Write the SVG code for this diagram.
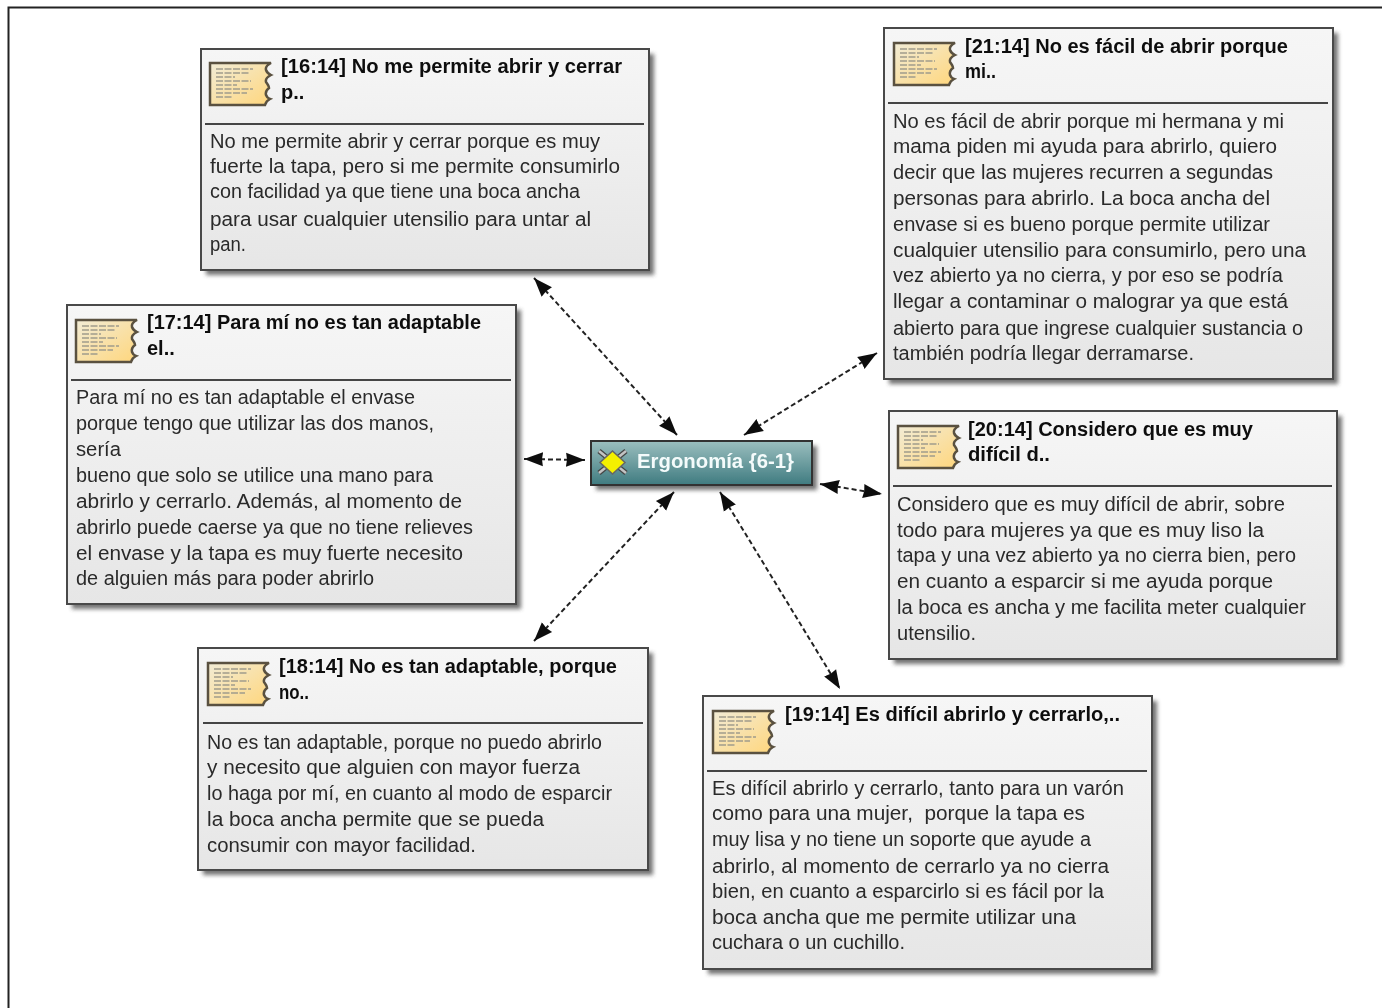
<svg xmlns="http://www.w3.org/2000/svg" width="1382" height="1008" viewBox="0 0 1382 1008">
<style>
text{font-family:"Liberation Sans",Arial,sans-serif;white-space:pre;transform:translateY(-.7px)}
.t{font-size:20px;font-weight:700;fill:#111}
.b{font-size:20px;fill:#2a2a2a}
.card{fill:url(#cg);stroke:#4a4a4a;stroke-width:2}
.sh{fill:#444;opacity:.75;filter:url(#blur)}
.div{stroke:#444;stroke-width:2}
.conn{fill:none;stroke:#222;stroke-width:2;stroke-dasharray:5 3;marker-start:url(#ah);marker-end:url(#ah)}
</style>
<defs>
<linearGradient id="cg" x1="0" y1="0" x2="0" y2="1"><stop offset="0" stop-color="#f6f6f6"/><stop offset="1" stop-color="#e6e6e6"/></linearGradient>
<linearGradient id="tg" x1="0" y1="0" x2="0" y2="1"><stop offset="0" stop-color="#9bbfbf"/><stop offset="1" stop-color="#3f7b80"/></linearGradient>
<linearGradient id="pg" x1="0" y1="0" x2="1" y2="1"><stop offset="0" stop-color="#f2ecd6"/><stop offset="1" stop-color="#ffd67c"/></linearGradient>
<filter id="blur" x="-10%" y="-10%" width="120%" height="120%"><feGaussianBlur stdDeviation="2"/></filter>
<filter id="soft" x="0" y="0" width="100%" height="100%" filterUnits="userSpaceOnUse" primitiveUnits="userSpaceOnUse"><feGaussianBlur stdDeviation="0.45"/></filter>
<marker id="ah" markerUnits="userSpaceOnUse" markerWidth="20" markerHeight="18" refX="19" refY="9" orient="auto-start-reverse"><path d="M0 2L19 9L0 16L1 9Z" fill="#111"/></marker>
<symbol id="icon" width="64" height="46" viewBox="0 0 64 46" overflow="visible">
<path d="M1 2H62Q56 5 57 9Q58 12 62 14Q56 17 57 21Q60 25 60 27Q56 30 57 34Q58 37 61 38Q57 40 56 44H1Z" fill="url(#pg)" stroke="#5a5140" stroke-width="2.500"/>
<path d="M7 8H44M7 12H40M7 16H26M7 20H42M7 24H28M7 28H44M7 32H38M7 36H24" stroke="#a09c8c" stroke-width="1.400" stroke-dasharray="7 1.500" fill="none"/>
</symbol>
</defs>
<g id="diagram" filter="url(#soft)">
<rect width="1382" height="1008" fill="#fff"/>
<path d="M8.500 1008V7.500H1382" fill="none" stroke="#222" stroke-width="2"/>
<g id="connectors">
<line class="conn" x1="534" y1="278" x2="677" y2="435"/>
<line class="conn" x1="877" y1="353" x2="744" y2="435"/>
<line class="conn" x1="524" y1="459" x2="585" y2="460"/>
<line class="conn" x1="820" y1="484" x2="882" y2="494"/>
<line class="conn" x1="534" y1="641" x2="674" y2="492"/>
<line class="conn" x1="720" y1="492" x2="840" y2="689"/>
</g>
<g id="node-center">
<rect class="sh" x="596" y="446" width="221" height="44"/>
<rect x="591" y="441" width="221" height="44" fill="url(#tg)" stroke="#333" stroke-width="2"/>
<g stroke="#444" stroke-width="5"><line x1="599" y1="451" x2="626" y2="473"/><line x1="626" y1="451" x2="599" y2="473"/></g>
<g stroke="#c4c4c4" stroke-width="2.500"><line x1="599" y1="451" x2="626" y2="473"/><line x1="626" y1="451" x2="599" y2="473"/></g>
<path d="M612.500 451L625 462.500L612.500 474L600 462.500Z" fill="#f4f000" stroke="#666" stroke-width="1.500"/>
<text x="637" y="469" font-size="21" font-weight="700" fill="#f4fbfb" textLength="157" lengthAdjust="spacingAndGlyphs">Ergonomía {6-1}</text>
</g>
<g id="node-16">
<rect class="sh" x="206" y="54" width="448" height="221"/>
<rect class="card" x="201" y="49" width="448" height="221"/>
<use href="#icon" x="209" y="61"/>
<line class="div" x1="205" y1="124" x2="644" y2="124"/>
<text class="t" x="281" y="74" textLength="341" lengthAdjust="spacingAndGlyphs">[16:14] No me permite abrir y cerrar</text>
<text class="t" x="281" y="100">p..</text>
<text class="b" x="210" y="149" textLength="390" lengthAdjust="spacingAndGlyphs">No me permite abrir y cerrar porque es muy</text>
<text class="b" x="210" y="174" textLength="410" lengthAdjust="spacingAndGlyphs">fuerte la tapa, pero si me permite consumirlo</text>
<text class="b" x="210" y="199" textLength="370" lengthAdjust="spacingAndGlyphs">con facilidad ya que tiene una boca ancha</text>
<text class="b" x="210" y="227" textLength="381" lengthAdjust="spacingAndGlyphs">para usar cualquier utensilio para untar al</text>
<text class="b" x="210" y="252" textLength="36" lengthAdjust="spacingAndGlyphs">pan.</text>
</g>
<g id="node-21">
<rect class="sh" x="889" y="33" width="449" height="351"/>
<rect class="card" x="884" y="28" width="449" height="351"/>
<use href="#icon" x="893" y="41"/>
<line class="div" x1="888" y1="103" x2="1328" y2="103"/>
<text class="t" x="965" y="54" textLength="323" lengthAdjust="spacingAndGlyphs">[21:14] No es fácil de abrir porque</text>
<text class="t" x="965" y="79" textLength="31" lengthAdjust="spacingAndGlyphs">mi..</text>
<text class="b" x="893" y="129" textLength="391" lengthAdjust="spacingAndGlyphs">No es fácil de abrir porque mi hermana y mi</text>
<text class="b" x="893" y="154" textLength="384" lengthAdjust="spacingAndGlyphs">mama piden mi ayuda para abrirlo, quiero</text>
<text class="b" x="893" y="180" textLength="380" lengthAdjust="spacingAndGlyphs">decir que las mujeres recurren a segundas</text>
<text class="b" x="893" y="206" textLength="377" lengthAdjust="spacingAndGlyphs">personas para abrirlo. La boca ancha del</text>
<text class="b" x="893" y="232" textLength="377" lengthAdjust="spacingAndGlyphs">envase si es bueno porque permite utilizar</text>
<text class="b" x="893" y="258" textLength="413" lengthAdjust="spacingAndGlyphs">cualquier utensilio para consumirlo, pero una</text>
<text class="b" x="893" y="283" textLength="390" lengthAdjust="spacingAndGlyphs">vez abierto ya no cierra, y por eso se podría</text>
<text class="b" x="893" y="309" textLength="395" lengthAdjust="spacingAndGlyphs">llegar a contaminar o malograr ya que está</text>
<text class="b" x="893" y="336" textLength="410" lengthAdjust="spacingAndGlyphs">abierto para que ingrese cualquier sustancia o</text>
<text class="b" x="893" y="361" textLength="301" lengthAdjust="spacingAndGlyphs">también podría llegar derramarse.</text>
</g>
<g id="node-17">
<rect class="sh" x="72" y="310" width="449" height="299"/>
<rect class="card" x="67" y="305" width="449" height="299"/>
<use href="#icon" x="75" y="318"/>
<line class="div" x1="71" y1="380" x2="511" y2="380"/>
<text class="t" x="147" y="330" textLength="334" lengthAdjust="spacingAndGlyphs">[17:14] Para mí no es tan adaptable</text>
<text class="t" x="147" y="356">el..</text>
<text class="b" x="76" y="405" textLength="339" lengthAdjust="spacingAndGlyphs">Para mí no es tan adaptable el envase</text>
<text class="b" x="76" y="431" textLength="358" lengthAdjust="spacingAndGlyphs">porque tengo que utilizar las dos manos,</text>
<text class="b" x="76" y="457" textLength="45" lengthAdjust="spacingAndGlyphs">sería</text>
<text class="b" x="76" y="483" textLength="357" lengthAdjust="spacingAndGlyphs">bueno que solo se utilice una mano para</text>
<text class="b" x="76" y="509" textLength="386" lengthAdjust="spacingAndGlyphs">abrirlo y cerrarlo. Además, al momento de</text>
<text class="b" x="76" y="535" textLength="397" lengthAdjust="spacingAndGlyphs">abrirlo puede caerse ya que no tiene relieves</text>
<text class="b" x="76" y="561" textLength="387" lengthAdjust="spacingAndGlyphs">el envase y la tapa es muy fuerte necesito</text>
<text class="b" x="76" y="586" textLength="298" lengthAdjust="spacingAndGlyphs">de alguien más para poder abrirlo</text>
</g>
<g id="node-18">
<rect class="sh" x="203" y="653" width="450" height="222"/>
<rect class="card" x="198" y="648" width="450" height="222"/>
<use href="#icon" x="207" y="661"/>
<line class="div" x1="203" y1="723" x2="643" y2="723"/>
<text class="t" x="279" y="674" textLength="338" lengthAdjust="spacingAndGlyphs">[18:14] No es tan adaptable, porque</text>
<text class="t" x="279" y="700" textLength="30" lengthAdjust="spacingAndGlyphs">no..</text>
<text class="b" x="207" y="750" textLength="395" lengthAdjust="spacingAndGlyphs">No es tan adaptable, porque no puedo abrirlo</text>
<text class="b" x="207" y="775" textLength="373" lengthAdjust="spacingAndGlyphs">y necesito que alguien con mayor fuerza</text>
<text class="b" x="207" y="801" textLength="405" lengthAdjust="spacingAndGlyphs">lo haga por mí, en cuanto al modo de esparcir</text>
<text class="b" x="207" y="827" textLength="337" lengthAdjust="spacingAndGlyphs">la boca ancha permite que se pueda</text>
<text class="b" x="207" y="853" textLength="269" lengthAdjust="spacingAndGlyphs">consumir con mayor facilidad.</text>
</g>
<g id="node-19">
<rect class="sh" x="708" y="701" width="449" height="273"/>
<rect class="card" x="703" y="696" width="449" height="273"/>
<use href="#icon" x="712" y="709"/>
<line class="div" x1="707" y1="771" x2="1147" y2="771"/>
<text class="t" x="785" y="722" textLength="335" lengthAdjust="spacingAndGlyphs">[19:14] Es difícil abrirlo y cerrarlo,..</text>
<text class="b" x="712" y="796" textLength="412" lengthAdjust="spacingAndGlyphs">Es difícil abrirlo y cerrarlo, tanto para un varón</text>
<text class="b" x="712" y="821" textLength="373" lengthAdjust="spacingAndGlyphs">como para una mujer,  porque la tapa es</text>
<text class="b" x="712" y="847" textLength="379" lengthAdjust="spacingAndGlyphs">muy lisa y no tiene un soporte que ayude a</text>
<text class="b" x="712" y="874" textLength="397" lengthAdjust="spacingAndGlyphs">abrirlo, al momento de cerrarlo ya no cierra</text>
<text class="b" x="712" y="899" textLength="392" lengthAdjust="spacingAndGlyphs">bien, en cuanto a esparcirlo si es fácil por la</text>
<text class="b" x="712" y="925" textLength="364" lengthAdjust="spacingAndGlyphs">boca ancha que me permite utilizar una</text>
<text class="b" x="712" y="950" textLength="193" lengthAdjust="spacingAndGlyphs">cuchara o un cuchillo.</text>
</g>
<g id="node-20">
<rect class="sh" x="894" y="416" width="448" height="248"/>
<rect class="card" x="889" y="411" width="448" height="248"/>
<use href="#icon" x="897" y="424"/>
<line class="div" x1="893" y1="486" x2="1332" y2="486"/>
<text class="t" x="968" y="437" textLength="285" lengthAdjust="spacingAndGlyphs">[20:14] Considero que es muy</text>
<text class="t" x="968" y="462" textLength="82" lengthAdjust="spacingAndGlyphs">difícil d..</text>
<text class="b" x="897" y="512" textLength="388" lengthAdjust="spacingAndGlyphs">Considero que es muy difícil de abrir, sobre</text>
<text class="b" x="897" y="538" textLength="367" lengthAdjust="spacingAndGlyphs">todo para mujeres ya que es muy liso la</text>
<text class="b" x="897" y="563" textLength="399" lengthAdjust="spacingAndGlyphs">tapa y una vez abierto ya no cierra bien, pero</text>
<text class="b" x="897" y="589" textLength="376" lengthAdjust="spacingAndGlyphs">en cuanto a esparcir si me ayuda porque</text>
<text class="b" x="897" y="615" textLength="409" lengthAdjust="spacingAndGlyphs">la boca es ancha y me facilita meter cualquier</text>
<text class="b" x="897" y="641" textLength="79" lengthAdjust="spacingAndGlyphs">utensilio.</text>
</g>
</g>
</svg>
